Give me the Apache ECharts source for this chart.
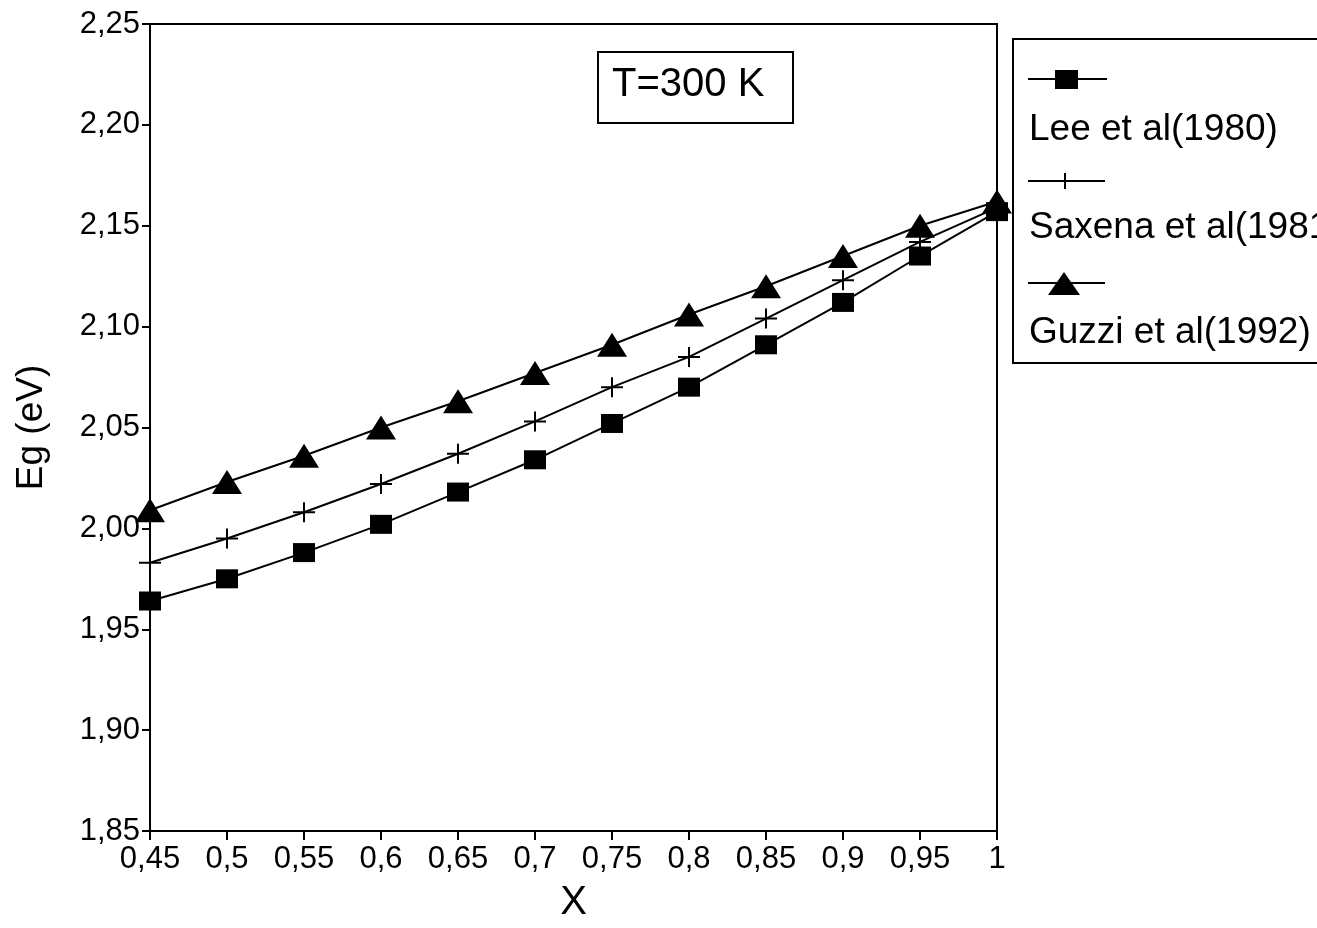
<!DOCTYPE html>
<html>
<head>
<meta charset="utf-8">
<title>Eg vs X at T=300 K</title>
<script src="https://cdn.jsdelivr.net/npm/echarts@6/dist/echarts.min.js"></script>
<style>
  html, body { margin: 0; padding: 0; background: #fff; }
  #chart { width: 1317px; height: 928px; }
</style>
</head>
<body>
<div id="chart"></div>
<script>
// Composition X and band gap Eg (eV) for three models
const xValues = [0.45, 0.5, 0.55, 0.6, 0.65, 0.7, 0.75, 0.8, 0.85, 0.9, 0.95, 1];
const leeValues = [1.964, 1.975, 1.988, 2.002, 2.018, 2.034, 2.052, 2.070, 2.091, 2.112, 2.135, 2.157];
const saxenaValues = [1.983, 1.995, 2.008, 2.022, 2.037, 2.053, 2.070, 2.085, 2.104, 2.123, 2.142, 2.159];
const guzziValues = [2.009, 2.023, 2.036, 2.050, 2.063, 2.077, 2.091, 2.106, 2.120, 2.135, 2.150, 2.162];

const seriesNames = ['Lee et al(1980)', 'Saxena et al(1981)', 'Guzzi et al(1992)'];

// Tick labels (decimal comma)
const xTickLabels = ['0,45', '0,5', '0,55', '0,6', '0,65', '0,7', '0,75', '0,8', '0,85', '0,9', '0,95', '1'];
const yTickLabels = ['1,85', '1,90', '1,95', '2,00', '2,05', '2,10', '2,15', '2,20', '2,25'];

const X_MIN = 0.45, X_MAX = 1, X_STEP = 0.05;
const Y_MIN = 1.85, Y_MAX = 2.25, Y_STEP = 0.05;

const FONT = '"Liberation Sans", Arial, Helvetica, sans-serif';
const PLUS_PATH = 'path://M0,9H22V11H0Z M10,0H12V20H10Z';

function pairs(ys) {
  return xValues.map((x, i) => [x, ys[i]]);
}

const chart = echarts.init(document.getElementById('chart'), null, { renderer: 'canvas' });

const lineStyle = { color: '#000', width: 2 };

const option = {
  backgroundColor: '#fff',
  animation: false,
  grid: {
    left: 150, right: 320, top: 24, bottom: 90,
    show: true, borderColor: '#000', borderWidth: 2, backgroundColor: 'transparent'
  },
  xAxis: {
    type: 'value',
    min: X_MIN, max: X_MAX, interval: X_STEP,
    name: 'X',
    nameLocation: 'middle',
    nameGap: 52,
    nameTextStyle: { fontFamily: FONT, fontSize: 40, color: '#000' },
    axisLine: { show: true, lineStyle: { color: '#000', width: 2 } },
    axisTick: { show: true, inside: false, length: 9, lineStyle: { color: '#000', width: 2 } },
    axisLabel: {
      margin: 13, color: '#000', fontFamily: FONT, fontSize: 31,
      formatter: v => xTickLabels[Math.round((v - X_MIN) / X_STEP)] ?? ''
    },
    splitLine: { show: false }
  },
  yAxis: {
    type: 'value',
    min: Y_MIN, max: Y_MAX, interval: Y_STEP,
    name: 'Eg (eV)',
    nameLocation: 'middle',
    nameGap: 100,
    nameRotate: 90,
    nameTextStyle: { fontFamily: FONT, fontSize: 37, color: '#000' },
    axisLine: { show: true, lineStyle: { color: '#000', width: 2 } },
    axisTick: { show: true, inside: false, length: 8, lineStyle: { color: '#000', width: 2 } },
    axisLabel: {
      margin: 10, color: '#000', fontFamily: FONT, fontSize: 31,
      formatter: v => yTickLabels[Math.round((v - Y_MIN) / Y_STEP)] ?? ''
    },
    splitLine: { show: false }
  },
  series: [
    {
      name: seriesNames[0], type: 'line', data: pairs(leeValues),
      symbol: 'rect', symbolSize: [22, 19], clip: false,
      itemStyle: { color: '#000' }, lineStyle: lineStyle, z: 3
    },
    {
      name: seriesNames[1], type: 'line', data: pairs(saxenaValues),
      symbol: PLUS_PATH, symbolSize: [22, 20], clip: false,
      itemStyle: { color: '#000' }, lineStyle: lineStyle, z: 3
    },
    {
      name: seriesNames[2], type: 'line', data: pairs(guzziValues),
      symbol: 'triangle', symbolSize: [30, 24], clip: false,
      itemStyle: { color: '#000' }, lineStyle: lineStyle, z: 4
    }
  ],
  graphic: [
    // Temperature box
    {
      type: 'rect', left: 597, top: 51,
      shape: { width: 195, height: 71 },
      style: { fill: '#fff', stroke: '#000', lineWidth: 2 }, z: 10
    },
    {
      type: 'text', left: 612, top: 65,
      style: { text: 'T=300 K', font: '40px ' + FONT, fill: '#000' }, z: 11
    },
    // Legend box
    {
      type: 'rect', left: 1012, top: 38,
      shape: { width: 340, height: 324 },
      style: { fill: '#fff', stroke: '#000', lineWidth: 2 }, z: 10
    },
    // Lee sample
    { type: 'line', shape: { x1: 1028, y1: 79, x2: 1107, y2: 79 }, style: { stroke: '#000', lineWidth: 2 }, z: 11 },
    { type: 'rect', shape: { x: 1055, y: 70, width: 23, height: 19 }, style: { fill: '#000' }, z: 11 },
    { type: 'text', left: 1029, top: 111, style: { text: seriesNames[0], font: '37px ' + FONT, fill: '#000' }, z: 11 },
    // Saxena sample
    { type: 'line', shape: { x1: 1028, y1: 181, x2: 1105, y2: 181 }, style: { stroke: '#000', lineWidth: 2 }, z: 11 },
    { type: 'line', shape: { x1: 1065, y1: 173, x2: 1065, y2: 189 }, style: { stroke: '#000', lineWidth: 2 }, z: 11 },
    { type: 'text', left: 1029, top: 209, style: { text: seriesNames[1], font: '37px ' + FONT, fill: '#000' }, z: 11 },
    // Guzzi sample
    { type: 'line', shape: { x1: 1028, y1: 283, x2: 1105, y2: 283 }, style: { stroke: '#000', lineWidth: 2 }, z: 11 },
    { type: 'polygon', shape: { points: [[1064, 272], [1080, 295], [1048, 295]] }, style: { fill: '#000' }, z: 11 },
    { type: 'text', left: 1029, top: 314, style: { text: seriesNames[2], font: '37px ' + FONT, fill: '#000' }, z: 11 }
  ]
};

chart.setOption(option);
</script>
</body>
</html>
